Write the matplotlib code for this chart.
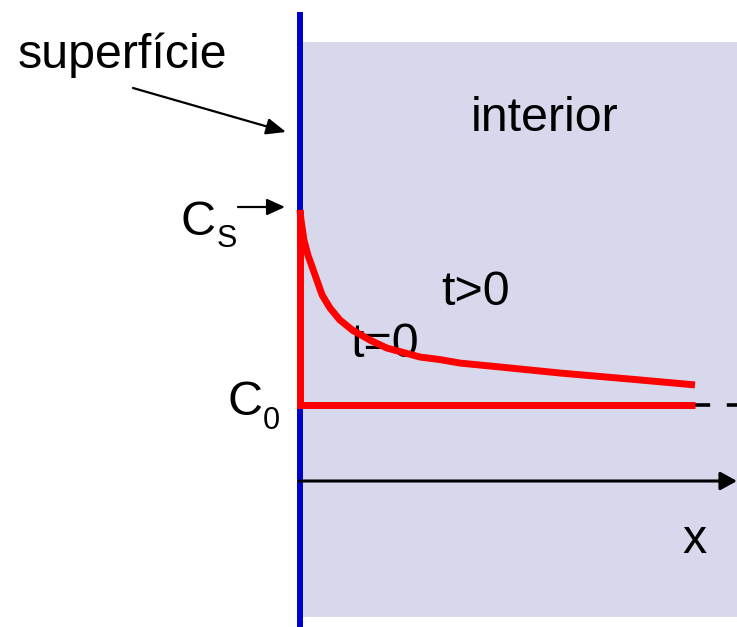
import matplotlib.pyplot as plt
import numpy as np

plt.rcParams['font.family'] = ['Liberation Sans', 'DejaVu Sans']

# perfil de concentração (profundidade normalizada, C normalizado: C0=0, Cs=1)
depth = [0.0, 0.0025, 0.010, 0.020, 0.038, 0.056, 0.076, 0.101, 0.132, 0.177,
         0.220, 0.304, 0.354, 0.405, 0.506, 0.658, 0.835, 1.0]
conc = [1.0, 0.949, 0.846, 0.769, 0.667, 0.564, 0.497, 0.436, 0.385, 0.333,
        0.292, 0.246, 0.233, 0.215, 0.195, 0.164, 0.133, 0.103]
depth0 = [0.0, 0.0, 1.0]
conc0 = [1.0, 0.0, 0.0]

W, H = 737, 627
fig = plt.figure(figsize=(W / 100, H / 100), dpi=100)
bg = fig.add_axes([0, 0, 1, 1])
bg.set_xlim(0, W)
bg.set_ylim(H, 0)
bg.axis('off')

# interior
bg.add_patch(plt.Rectangle((303, 42), W - 303, 617 - 42, facecolor='#d8d8ec', edgecolor='none', zorder=1))
# superficie
bg.plot([300, 300], [12, H], color='#0000cc', lw=4.3, solid_capstyle='butt', zorder=2)

# eixo x
bg.annotate('', xy=(737, 481), xytext=(299, 481),
            arrowprops=dict(arrowstyle='-|>,head_length=1.0,head_width=0.55', color='black',
                            lw=2.2, mutation_scale=10, shrinkA=0, shrinkB=0), zorder=3)
# tracejado
bg.plot([695, 737], [405, 405], color='black', lw=2.6, dashes=(4.2, 4.6), zorder=3)

bg.annotate('', xy=(286, 132), xytext=(133, 88),
            arrowprops=dict(arrowstyle='-|>,head_length=1.2,head_width=0.5', color='black',
                            lw=1.6, mutation_scale=10, shrinkA=0, shrinkB=0), zorder=3)
bg.annotate('', xy=(285, 207), xytext=(238, 207),
            arrowprops=dict(arrowstyle='-|>,head_length=1.1,head_width=0.5', color='black',
                            lw=1.6, mutation_scale=10, shrinkA=0, shrinkB=0), zorder=3)

fs = 34.8
bg.text(18, 68, 'superfície', fontsize=fs, va='baseline', ha='left', zorder=5)
bg.text(471, 131, 'interior', fontsize=fs, va='baseline', ha='left', zorder=5)
bg.text(441, 305, 't>0', fontsize=fs, va='baseline', ha='left', zorder=5)
bg.text(350, 357, 't=0', fontsize=fs, va='baseline', ha='left', zorder=5)
bg.text(682, 553, 'x', fontsize=fs, va='baseline', ha='left', zorder=5)
bg.text(181, 235, 'C', fontsize=fs, va='baseline', ha='left', zorder=5)
bg.text(217, 247, 'S', fontsize=22, va='baseline', ha='left', zorder=5)
bg.text(228, 415, 'C', fontsize=fs, va='baseline', ha='left', zorder=5)
bg.text(263, 429, '0', fontsize=22, va='baseline', ha='left', zorder=5)

# eixos do perfil
x0, x1, y0, y1 = 300, 695, 405, 210
ax = fig.add_axes([x0 / W, 1 - y0 / H, (x1 - x0) / W, (y0 - y1) / H])
ax.set_xlim(0, 1)
ax.set_ylim(0, 1)
ax.axis('off')
ax.patch.set_alpha(0)
ax.plot(depth0, conc0, color='#ff0000', lw=5, solid_capstyle='butt', solid_joinstyle='miter', clip_on=False)
ax.plot(depth, conc, color='#ff0000', lw=5, solid_capstyle='butt', solid_joinstyle='round', clip_on=False)

fig.savefig('out.png', dpi=100)
